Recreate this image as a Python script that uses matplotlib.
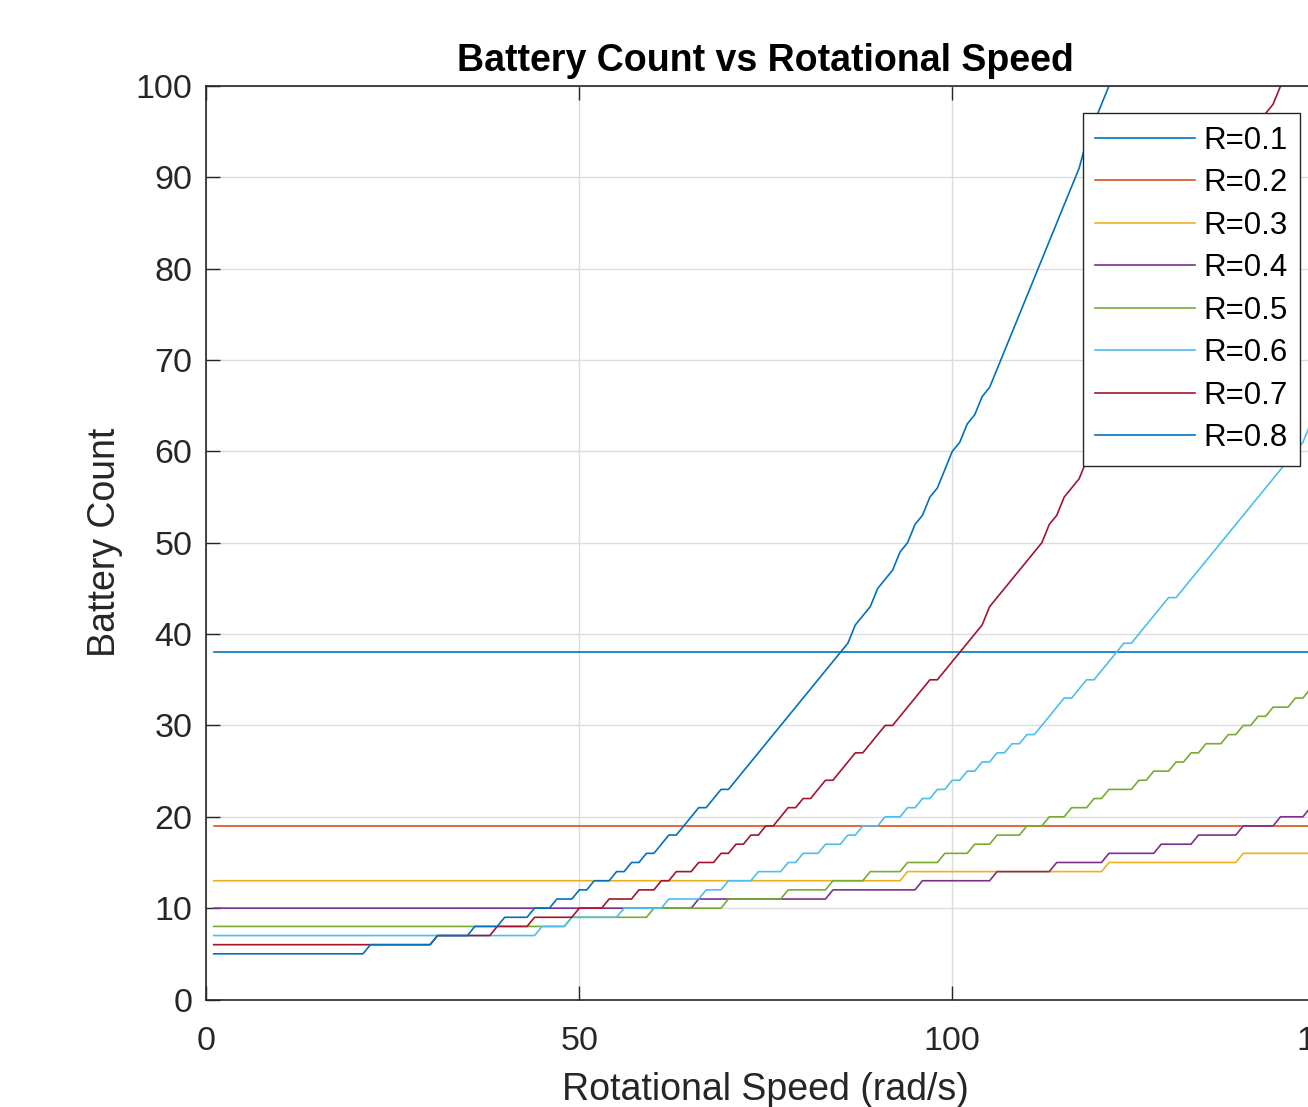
import numpy as np
import matplotlib
matplotlib.use('Agg')
import matplotlib.pyplot as plt

plt.rcParams['font.family'] = ['Liberation Sans', 'DejaVu Sans']

# rotational speed samples (rad/s)
omega = np.arange(1, 151)

labels = ['R=0.1', 'R=0.2', 'R=0.3', 'R=0.4', 'R=0.5', 'R=0.6', 'R=0.7', 'R=0.8']
colors = ['#0072BD', '#D95319', '#EDB120', '#7E2F8E',
          '#77AC30', '#4DBEEE', '#A2142F', '#0072BD']

# battery count at low speed for each radius
base_counts = [38, 19, 13, 10, 8, 7, 6, 5]

# speeds (rad/s) where each curve needs one more battery
steps_r01 = []
steps_r02 = []
steps_r03 = [93.5, 120.3, 138.4]
steps_r04 = [65.4, 83.4, 95.3, 105.5, 113.4, 120.4, 127.4, 132.1, 138.3,
             143.3, 147.2]
steps_r05 = [48.4, 59.4, 69.2, 77.5, 83.5, 88.2, 93.3, 98.3, 102.3, 105.5,
             109.3, 112.3, 115.3, 118.2, 121.0, 124.3, 126.8, 129.3, 131.6,
             134.0, 136.3, 138.6, 140.7, 142.9, 145.2, 147.4, 149.5]
steps_r06 = [44.7, 48.4, 55.4, 61.2, 66.1, 70.0, 73.8, 77.3, 80.0, 82.7,
             85.3, 87.8, 91.0, 93.1, 95.2, 97.3, 99.4, 101.4, 103.4, 105.4,
             107.3, 109.3, 111.3, 112.7, 113.7, 115.0, 116.4, 117.7, 119.1,
             120.4, 121.8, 123.0, 124.3, 125.5, 126.7, 127.9, 129.0, 130.2,
             131.4, 132.6, 133.8, 134.8, 135.8, 136.7, 137.7, 138.7, 139.6,
             140.6, 141.6, 142.6, 143.6, 144.5, 145.4, 146.3, 147.1, 148.0,
             148.8, 149.6]
steps_r07 = [30.5, 38.7, 44.0, 49.3, 53.3, 57.1, 60.1, 62.3, 65.5, 68.3,
             70.8, 72.8, 74.6, 76.3, 77.7, 79.5, 81.2, 82.8, 84.3, 85.6,
             87.0, 88.3, 89.6, 90.9, 92.1, 93.3, 94.5, 95.8, 97.0, 98.2,
             99.4, 100.6, 101.5, 102.3, 103.2, 104.1, 105.0, 105.9, 106.8,
             107.7, 108.6, 109.5, 110.4, 111.3, 112.1, 112.9, 113.6, 114.3,
             115.0, 115.7, 116.4, 117.1, 117.8, 118.5, 119.2, 119.9, 120.5,
             121.2, 121.9, 122.6, 123.2, 123.9, 124.6, 125.3, 125.9, 126.5,
             127.1, 127.7, 128.4, 129.0, 129.6, 130.2, 130.8, 131.4, 132.0,
             132.6, 133.2, 133.9, 134.5, 135.1, 135.7, 136.3, 136.9, 137.5,
             138.1, 138.7, 139.4, 140.0, 140.6, 141.2, 141.9, 142.5, 143.1,
             143.7, 144.3, 144.9]
steps_r08 = [21.5, 30.3, 35.5, 39.2, 43.2, 46.3, 49.6, 52.0, 54.5, 56.6,
             58.5, 60.3, 62.0, 63.3, 64.6, 66.0, 67.5, 68.9, 70.5, 71.5,
             72.5, 73.5, 74.5, 75.5, 76.5, 77.5, 78.5, 79.5, 80.5, 81.5,
             82.5, 83.5, 84.5, 85.4, 86.2, 87.0, 87.8, 88.5, 89.3, 90.0,
             90.8, 91.5, 92.2, 93.0, 93.7, 94.3, 95.0, 95.6, 96.2, 96.9,
             97.5, 98.1, 98.7, 99.4, 100.0, 100.6, 101.3, 101.9, 102.6,
             103.2, 103.8, 104.5, 105.1, 105.8, 106.4, 106.9, 107.4, 107.9,
             108.4, 109.0, 109.5, 110.0, 110.5, 111.0, 111.5, 112.0, 112.4,
             112.9, 113.4, 113.9, 114.3, 114.8, 115.3, 115.7, 116.2, 116.7,
             117.1, 117.6, 118.0, 118.5, 118.9, 119.4, 119.8, 120.3, 120.7,
             121.1, 121.5, 122.0, 122.4, 122.8]

all_steps = [steps_r01, steps_r02, steps_r03, steps_r04,
             steps_r05, steps_r06, steps_r07, steps_r08]

W, H = 1308, 1107
fig = plt.figure(figsize=(W / 100, H / 100), dpi=100)
# axes run past the right edge of the picture, like the cropped original
ax = fig.add_axes([206.3 / W, (H - 999.5) / H, 1119.0 / W, 913.5 / H])

for base, steps, lab, col in zip(base_counts, all_steps, labels, colors):
    count = base + np.searchsorted(np.array(steps, dtype=float), omega, side='right')
    ax.plot(omega, count, color=col, linewidth=1.2, label=lab)

ax.set_xlim(0, 150)
ax.set_ylim(0, 100)
ax.set_xticks([0, 50, 100, 150])
ax.set_yticks(np.arange(0, 101, 10))
ax.grid(True, color='#dcdcdc', linewidth=1.0)
ax.set_axisbelow(True)
for s in ax.spines.values():
    s.set_color('#262626')
    s.set_linewidth(1.2)
ax.tick_params(direction='in', length=10, width=1.0, top=True, right=True,
               labelsize=24.5, colors='#262626')
ax.tick_params(axis='x', pad=19)
ax.tick_params(axis='y', pad=10)

ax.set_title('Battery Count vs Rotational Speed', fontsize=27,
             fontweight='bold', pad=11)
ax.set_xlabel('Rotational Speed (rad/s)', fontsize=27, color='#262626',
              labelpad=11)
ax.set_ylabel('Battery Count', fontsize=27, color='#262626', labelpad=9)

leg = ax.legend(loc='upper left', bbox_to_anchor=(1082.7 / W, 1 - 113.3 / H),
                bbox_transform=fig.transFigure, borderaxespad=0,
                fontsize=22.5, handlelength=3.2, handletextpad=0.25,
                labelspacing=0.4, borderpad=0.4, fancybox=False,
                framealpha=1.0, edgecolor='#262626')
leg.get_frame().set_linewidth(1.0)

fig.savefig('out.png', dpi=100)
